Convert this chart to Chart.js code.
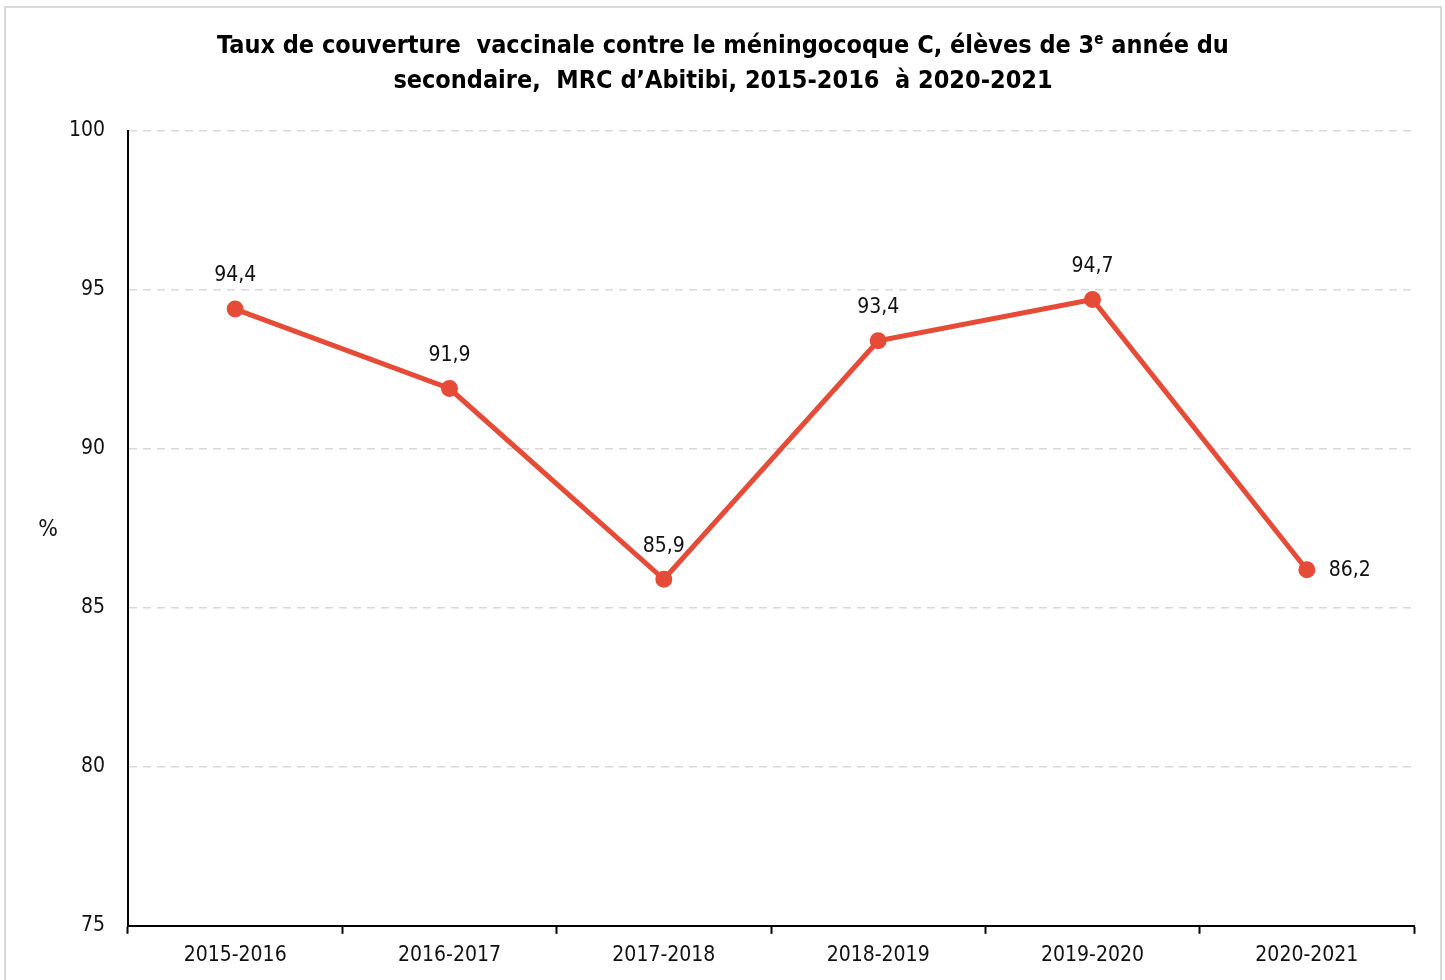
<!DOCTYPE html>
<html lang="fr">

<head>
  <meta charset="utf-8">
  <title>Couverture vaccinale méningocoque C</title>
  <script src="https://cdn.jsdelivr.net/npm/chart.js"></script>
  <style>
    body { margin: 0; background: #fff; }
    #frame { position: absolute; left: 4px; top: 6px; width: 1434px; height: 1000px; border: 2px solid #d9d9d9; }
    #wrap { position: absolute; left: 0; top: 0; width: 1445px; height: 980px; }
  </style>
</head>

<body>
  <div id="frame"></div>
  <div id="wrap">
    <canvas id="myChart"></canvas>
  </div>
  <script>
    // valeurs
    const annees = ['2015-2016', '2016-2017', '2017-2018', '2018-2019', '2019-2020', '2020-2021'];
    const taux = [94.4, 91.9, 85.9, 93.4, 94.7, 86.2];
    const yTicks = [75, 80, 85, 90, 95, 100];

    const FONT = '"Liberation Sans Narrow", "Arial Narrow", "DejaVu Sans Condensed", sans-serif';

    // titre avec exposant + libellés de valeurs + "%"
    const decor = {
      id: 'decor',
      afterDatasetsDraw(chart) {
        const ctx = chart.ctx;
        const meta = chart.getDatasetMeta(0);
        ctx.save();
        ctx.fillStyle = '#111';
        ctx.font = '21px ' + FONT;
        ctx.textBaseline = 'middle';
        meta.data.forEach(function (pt, i) {
          const txt = taux[i].toFixed(1).replace('.', ',');
          if (i === taux.length - 1) {
            ctx.textAlign = 'left';
            ctx.fillText(txt, pt.x + 22, pt.y + 1);
          } else {
            ctx.textAlign = 'center';
            ctx.fillText(txt, pt.x, pt.y - 33);
          }
        });
        // titre d'axe horizontal
        ctx.font = '23px ' + FONT;
        ctx.textAlign = 'center';
        ctx.fillText('%', 48, (chart.chartArea.top + chart.chartArea.bottom) / 2 + 2);
        ctx.restore();
      },
      afterDraw(chart) {
        const ctx = chart.ctx;
        const cx = 723;
        ctx.save();
        ctx.fillStyle = '#000';
        ctx.textBaseline = 'alphabetic';
        const big = 'bold 25px ' + FONT;
        const small = 'bold 15px ' + FONT;
        const parts = [
          ['Taux de couverture  vaccinale contre le méningocoque C, élèves de 3', big, 0],
          ['e', small, -9],
          [' année du', big, 0]
        ];
        let w = 0;
        parts.forEach(function (p) { ctx.font = p[1]; w += ctx.measureText(p[0]).width; });
        let x = cx - w / 2;
        ctx.textAlign = 'left';
        parts.forEach(function (p) {
          ctx.font = p[1];
          ctx.fillText(p[0], x, 53 + p[2]);
          x += ctx.measureText(p[0]).width;
        });
        ctx.font = big;
        ctx.textAlign = 'center';
        ctx.fillText('secondaire,  MRC d\u2019Abitibi, 2015-2016  à 2020-2021', cx, 88);
        ctx.restore();
      }
    };

    const ctx = document.getElementById('myChart');

    new Chart(ctx, {
      type: 'line',
      data: {
        labels: annees,
        datasets: [{
          data: taux,
          borderColor: '#e54b36',
          backgroundColor: '#e54b36',
          borderWidth: 5,
          pointRadius: 6,
          pointHoverRadius: 6,
          tension: 0
        }]
      },
      options: {
        responsive: true,
        maintainAspectRatio: false,
        animation: false,
        layout: { padding: { top: 131, right: 31, bottom: 3, left: 0 } },
        plugins: {
          legend: { display: false },
          tooltip: { enabled: false }
        },
        scales: {
          x: {
            offset: true,
            grid: {
              offset: true,
              drawOnChartArea: false,
              drawTicks: true,
              tickLength: 8,
              tickWidth: 2,
              tickColor: '#000'
            },
            border: { color: '#000', width: 2 },
            ticks: { color: '#111', padding: 9, font: { family: FONT, size: 21 }, maxRotation: 0 }
          },
          y: {
            min: 75,
            max: 100,
            afterFit(scale) { scale.width = 128; },
            afterBuildTicks(scale) { scale.ticks = yTicks.map(function (v) { return { value: v }; }); },
            grid: {
              drawTicks: false,
              color: function (c) { return c.tick && c.tick.value === 75 ? 'rgba(0,0,0,0)' : '#d9d9d9'; },
              lineWidth: 1.5
            },
            border: { color: '#000', width: 2, dash: [8, 6], display: true },
            ticks: { color: '#111', padding: 23, font: { family: FONT, size: 21 } }
          }
        }
      },
      plugins: [decor]
    });
  </script>
</body>

</html>
